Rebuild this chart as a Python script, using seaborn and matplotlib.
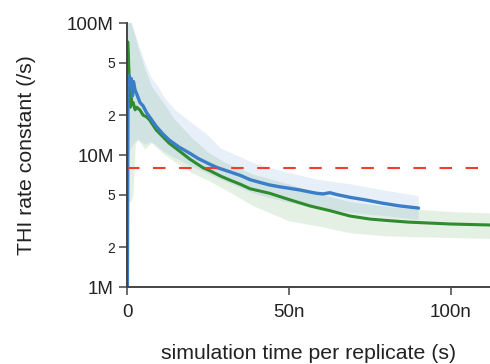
import numpy as np
import pandas as pd
import matplotlib
matplotlib.use("Agg")
import matplotlib.pyplot as plt
import matplotlib.ticker as mticker
import seaborn as sns

# values (time in ns, rate in M/s)
t_blue = [0, 0.3, 0.6, 1.0, 1.3, 1.7, 2.0, 2.5, 3.0, 4.0, 5.0, 6.0, 7.0, 9, 11, 13, 16,
          19.4, 22, 25.6, 28, 31.8, 35, 38, 41, 44, 47, 50, 53.4, 56, 58.5, 60.5, 62.6,
          65, 68.8, 74, 79, 84, 90]
rate_blue = [0.1, 30, 40, 33, 38, 28, 36, 31, 29, 25, 23.5, 21, 19.4, 16.5, 14.5, 13, 11.5,
             10.3, 9.4, 8.5, 8.0, 7.45, 7.0, 6.5, 6.2, 5.93, 5.75, 5.6, 5.43, 5.27, 5.13, 5.07, 5.18,
             5.0, 4.78, 4.55, 4.31, 4.12, 3.96]

t_green = [0, 0.2, 0.5, 0.8, 1.0, 1.3, 1.6, 1.9, 2.5, 3.0, 4.0, 5.0, 6.0, 7.0, 9, 11, 13, 16,
           19.4, 23.5, 25.6, 29, 31.8, 35, 38, 44, 50, 56.5, 62.6, 68.8, 75, 81, 87, 100, 112, 116]
rate_green = [0.1, 72, 50, 30, 23, 27, 24, 25, 22, 23, 21.9, 20, 19.5, 18.4, 15.5, 13.8, 12.3, 10.8,
              9.3, 8.0, 7.6, 6.9, 6.45, 6.0, 5.55, 5.13, 4.6, 4.11, 3.79, 3.45, 3.27, 3.18, 3.1, 3.0, 2.95, 2.94]

# spread bands
t_blue_band = [0, 0.3, 1, 2.5, 3.5, 5.6, 7.7, 9.6, 11.7, 14.8, 20, 25, 29, 39, 49, 59.6, 69, 79, 90]
blue_hi = [120, 120, 110, 84, 70, 50, 38, 33, 27, 22, 17.5, 14.1, 11.2, 8.7, 7.4, 6.45, 6.0, 5.4, 4.88]
blue_lo = [0.1, 8, 11, 12.5, 13, 12, 12.5, 11.5, 10.5, 9.5, 8.2, 7.2, 6.5, 5.1, 4.4, 3.95, 3.65, 3.45, 3.22]

t_green_band = [0, 0.2, 0.5, 1.5, 2.0, 2.7, 3.5, 5.6, 7.7, 11.7, 14.8, 20, 25, 30, 39, 50, 60, 69,
                80, 90, 100, 116]
green_hi = [120, 130, 120, 95, 88, 78, 65, 45, 33, 24, 18.5, 13.5, 10.5, 8.8, 7.1, 6.0, 5.0, 4.4,
            4.05, 3.85, 3.7, 3.58]
green_lo = [0.1, 5, 4.3, 4.5, 5.0, 12, 13, 11, 12.3, 10, 8.85, 7.3, 6.4, 5.5, 4.1, 3.15, 2.85, 2.55,
            2.42, 2.38, 2.35, 2.3]

reference_rate = 8.0  # M/s, red dashed line

blue = "#3a7dc9"
green = "#2e8b2e"
red = "#f23c30"

sns.set_style("ticks")
plt.rcParams["font.family"] = ["Liberation Sans", "DejaVu Sans"]

fig = plt.figure(figsize=(4.9, 3.64), dpi=100)
ax = fig.add_axes([127 / 490, 77 / 364, 363 / 490, 264 / 364])

ns = 1e-9
M = 1e6

ax.fill_between(np.array(t_green_band) * ns, np.array(green_lo) * M, np.array(green_hi) * M,
                color=green, alpha=0.12, lw=0)
ax.fill_between(np.array(t_blue_band) * ns, np.array(blue_lo) * M, np.array(blue_hi) * M,
                color=blue, alpha=0.12, lw=0)

df_green = pd.DataFrame({"t": np.array(t_green) * ns, "k": np.array(rate_green) * M})
df_blue = pd.DataFrame({"t": np.array(t_blue) * ns, "k": np.array(rate_blue) * M})
sns.lineplot(data=df_green, x="t", y="k", color=green, lw=2.2, sort=False, ax=ax)
sns.lineplot(data=df_blue, x="t", y="k", color=blue, lw=2.4, sort=False, ax=ax)

ax.axhline(reference_rate * M, color=red, lw=1.5, dashes=(6, 6.5))

ax.set_yscale("log")
ax.set_ylim(1e6, 1e8)
ax.set_xlim(0, 112.05 * ns)

ax.yaxis.set_major_locator(mticker.FixedLocator([1e6, 1e7, 1e8]))
ax.yaxis.set_major_formatter(mticker.FixedFormatter(["1M", "10M", "100M"]))
ax.yaxis.set_minor_locator(mticker.FixedLocator([2e6, 5e6, 2e7, 5e7]))
ax.yaxis.set_minor_formatter(mticker.FixedFormatter(["2", "5", "2", "5"]))
ax.xaxis.set_major_locator(mticker.FixedLocator([0, 50 * ns, 100 * ns]))
ax.xaxis.set_major_formatter(mticker.FixedFormatter(["0", "50n", "100n"]))

ax.tick_params(axis="both", which="major", labelsize=13.5, length=6, width=1.1,
               color="#444444", labelcolor="#222222")
ax.tick_params(axis="y", which="major", pad=3.5)
ax.tick_params(axis="y", which="minor", labelsize=10, length=6, width=1.1,
               color="#444444", labelcolor="#222222", pad=2.5)
ax.tick_params(axis="x", which="major", pad=6.5)

sns.despine(ax=ax)
for s in ["left", "bottom"]:
    ax.spines[s].set_color("#444444")
    ax.spines[s].set_linewidth(1.4)

ax.set_xlabel("simulation time per replicate (s)", fontsize=15.3, labelpad=16, color="#222222")
ax.set_ylabel("THI rate constant (/s)", fontsize=15.3, labelpad=22, color="#222222")

fig.savefig("out.png", dpi=100)
